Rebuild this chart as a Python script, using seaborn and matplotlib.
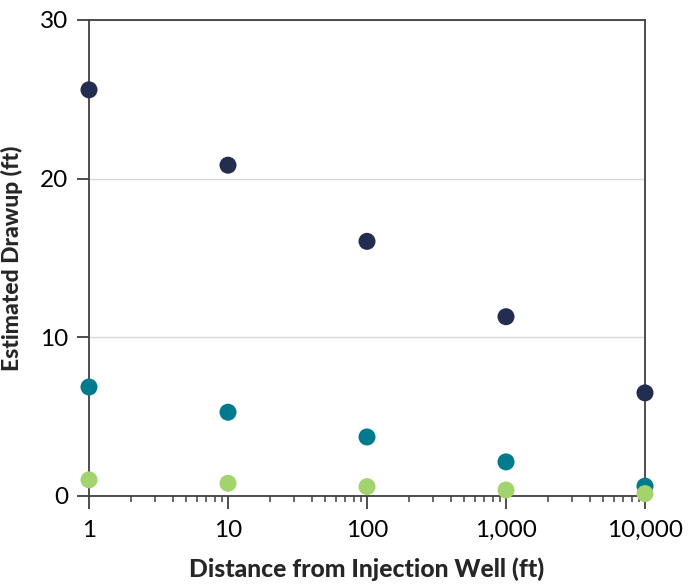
import matplotlib
matplotlib.use("Agg")
import matplotlib.pyplot as plt
import matplotlib.ticker as mticker
import seaborn as sns
import pandas as pd

distance = [1, 10, 100, 1000, 10000]
series_a = [25.6, 20.85, 16.05, 11.3, 6.5]
series_b = [6.87, 5.28, 3.72, 2.15, 0.62]
series_c = [1.02, 0.8, 0.59, 0.38, 0.15]
series_names = ["A", "B", "C"]
colors = ["#222d50", "#007a8f", "#a3d36c"]
x_ticks = [1, 10, 100, 1000, 10000]
x_tick_labels = ["1", "10", "100", "1,000", "10,000"]
y_ticks = [0, 10, 20, 30]

df = pd.DataFrame({
    "distance": distance * 3,
    "drawup": series_a + series_b + series_c,
    "series": [n for n in series_names for _ in distance],
})

sns.set_style("white")
plt.rcParams["font.family"] = ["Lato", "DejaVu Sans"]

fig = plt.figure(figsize=(6.89, 5.85), dpi=100)
ax = fig.add_axes([89/689, 89/585, (645-89)/689, (496-20)/585])

ax.set_xscale("log")
sns.scatterplot(data=df, x="distance", y="drawup", hue="series",
                palette=colors, s=150, edgecolor="none", legend=False,
                ax=ax, zorder=5, clip_on=False)

ax.set_xlim(1, 10000)
ax.set_ylim(0, 30)
ax.set_xticks(x_ticks)
ax.set_xticklabels(x_tick_labels)
ax.set_yticks(y_ticks)
ax.xaxis.set_minor_locator(mticker.LogLocator(base=10, subs=range(2, 10)))
ax.xaxis.set_minor_formatter(mticker.NullFormatter())

ax.grid(axis="y", color="#d9d9d9", linewidth=1)
ax.set_axisbelow(True)
for s in ax.spines.values():
    s.set_color("#404040")
    s.set_linewidth(1.3)
    s.set_visible(True)

ax.tick_params(axis="both", which="major", direction="out", length=9,
               width=1.3, color="#404040", labelsize=17.5, labelcolor="black",
               pad=6, bottom=True, left=True)
ax.tick_params(axis="x", which="minor", direction="out", length=4.5,
               width=1.1, color="#404040", bottom=True)
ax.tick_params(axis="x", which="major", pad=8)

ax.set_xlabel("Distance from Injection Well (ft)", fontsize=17.8, fontweight="black", labelpad=12)
ax.set_ylabel("Estimated Drawup (ft)", fontsize=16.5, fontweight="black", labelpad=12)

fig.savefig("out.png", dpi=100)
